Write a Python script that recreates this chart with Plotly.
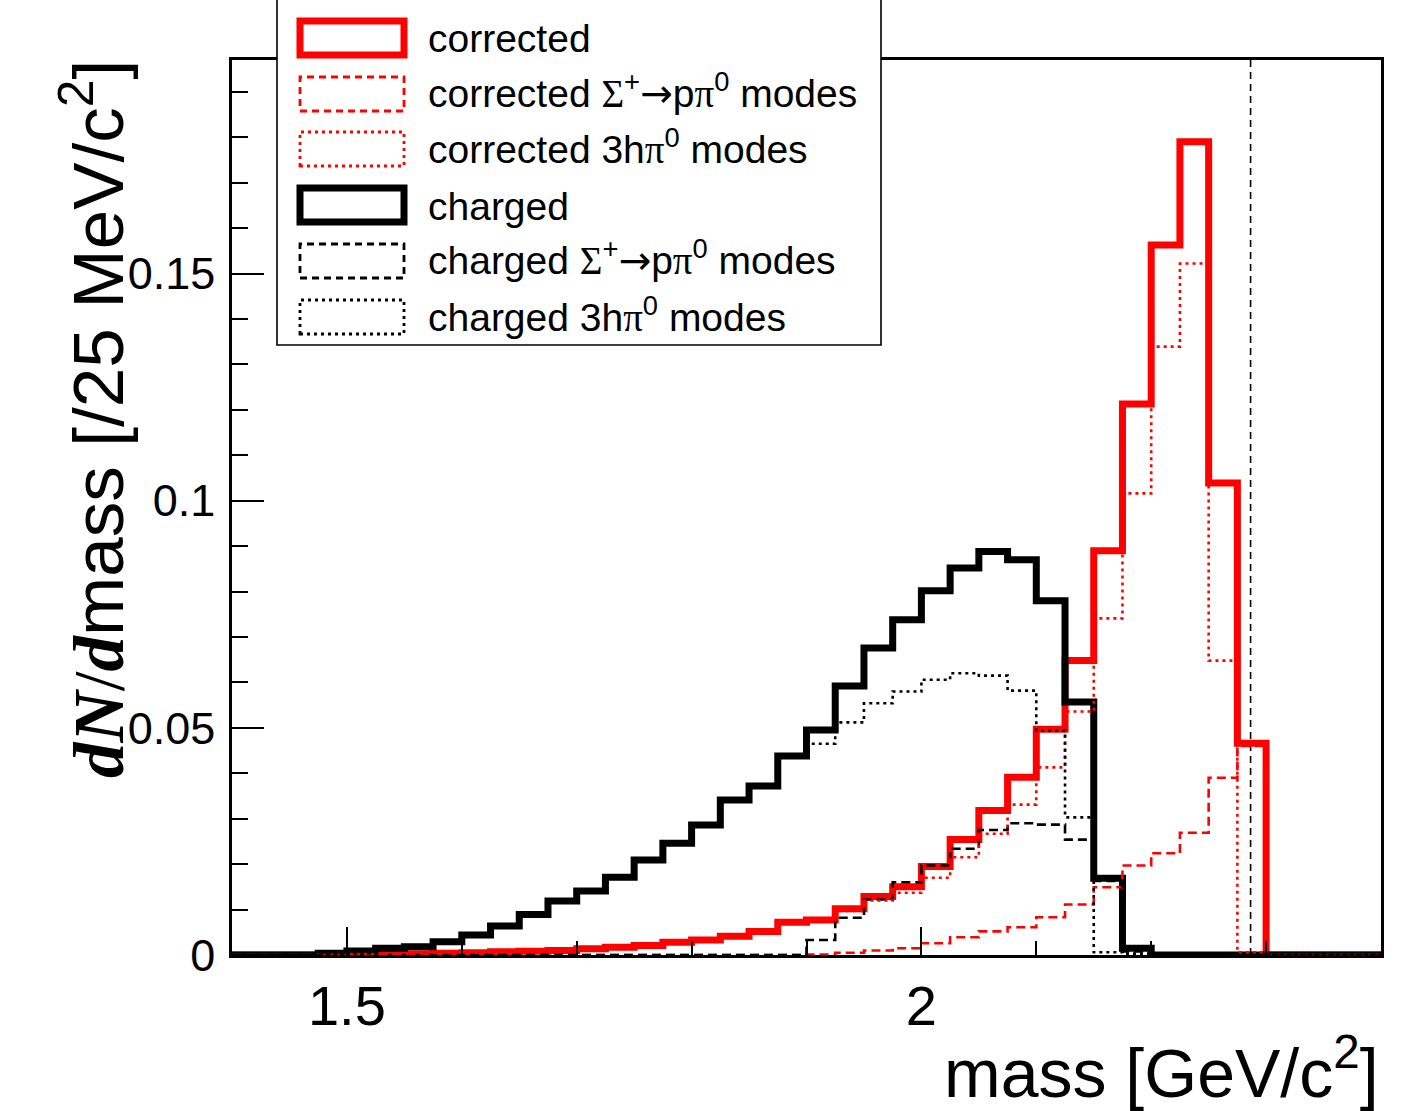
import plotly.graph_objects as go

# 25 MeV bins between 1.4 and 2.4 GeV/c^2
bin_edges = [round(1.4 + 0.025 * i, 3) for i in range(41)]

corrected = [0, 0, 0, 0.0001, 0.0002, 0.0002, 0.0003, 0.0004, 0.0005, 0.0007,
             0.0008, 0.0010, 0.0014, 0.0017, 0.0021, 0.0028, 0.0033, 0.0041, 0.0052, 0.0072,
             0.0077, 0.0102, 0.0129, 0.0150, 0.0195, 0.0254, 0.0318, 0.0391, 0.0497, 0.0648,
             0.0890, 0.1213, 0.1563, 0.1790, 0.1039, 0.0466, 0, 0, 0, 0]
corrected_sigma = [0, 0, 0, 0, 0, 0, 0, 0, 0, 0,
                   0, 0, 0, 0, 0, 0, 0, 0, 0, 0,
                   0.0001, 0.0005, 0.0010, 0.0015, 0.0026, 0.0039, 0.0052, 0.0061, 0.0083, 0.0111,
                   0.0149, 0.0197, 0.0224, 0.0269, 0.0390, 0.0460, 0, 0, 0, 0]
corrected_3h = [0, 0, 0, 0.0001, 0.0002, 0.0002, 0.0003, 0.0004, 0.0005, 0.0007,
                0.0008, 0.0010, 0.0014, 0.0017, 0.0021, 0.0028, 0.0033, 0.0041, 0.0052, 0.0072,
                0.0076, 0.0097, 0.0120, 0.0137, 0.0170, 0.0215, 0.0267, 0.0331, 0.0413, 0.0536,
                0.0741, 0.1016, 0.1339, 0.1522, 0.0648, 0.0006, 0, 0, 0, 0]
charged = [0, 0, 0, 0.0004, 0.0009, 0.0015, 0.0018, 0.0029, 0.0044, 0.0064,
           0.0089, 0.0119, 0.0141, 0.0171, 0.0209, 0.0246, 0.0286, 0.0341, 0.0372, 0.0438,
           0.0495, 0.0592, 0.0676, 0.0738, 0.0802, 0.0852, 0.0888, 0.0870, 0.0780, 0.0557,
           0.0169, 0.0015, 0, 0, 0, 0, 0, 0, 0, 0]
charged_sigma = [0, 0, 0, 0, 0, 0, 0, 0, 0, 0,
                 0, 0, 0, 0, 0, 0, 0, 0, 0, 0,
                 0.0033, 0.0082, 0.0122, 0.0160, 0.0197, 0.0234, 0.0275, 0.0290, 0.0287, 0.0254,
                 0.0163, 0.0008, 0, 0, 0, 0, 0, 0, 0, 0]
charged_3h = [0, 0, 0, 0.0004, 0.0009, 0.0015, 0.0018, 0.0029, 0.0044, 0.0064,
              0.0089, 0.0119, 0.0141, 0.0171, 0.0209, 0.0246, 0.0286, 0.0341, 0.0372, 0.0438,
              0.0465, 0.0512, 0.0554, 0.0580, 0.0606, 0.0620, 0.0615, 0.0582, 0.0494, 0.0303,
              0.0006, 0.0003, 0, 0, 0, 0, 0, 0, 0, 0]

lambda_c_mass = 2.2865

SANS = "Liberation Sans, Arial, Helvetica, sans-serif"
SERIF = "Liberation Serif"

# figure geometry (pixels)
W, H = 1424, 1111
L, R, T, B = 232, 43, 60, 156
PW, PH = W - L - R, H - T - B


def px(xp):
    return (xp - L) / PW


def py(yp):
    return (H - B - yp) / PH


def greek(s):
    return f"<span style='font-family:{SERIF}'>{s}</span>"


arrow = "<span style='font-family:DejaVu Sans'>→</span>"
sigma_txt = greek("Σ") + "<sup>+</sup>" + arrow + "p" + greek("π") + "<sup>0</sup>"
three_h_txt = "3h" + greek("π") + "<sup>0</sup>"

DASH = "9px,5px"
DOT = "3px,4px"

# (label, values, colour, width, dash) in drawing order: solid, dashed, dotted
series = [
    ("corrected", corrected, "#ff0000", 7, "solid"),
    ("charged", charged, "#000000", 7, "solid"),
    ("corrected " + sigma_txt + " modes", corrected_sigma, "#ff0000", 2.6, DASH),
    ("charged " + sigma_txt + " modes", charged_sigma, "#000000", 2.6, DASH),
    ("corrected " + three_h_txt + " modes", corrected_3h, "#ff0000", 2.6, DOT),
    ("charged " + three_h_txt + " modes", charged_3h, "#000000", 2.6, DOT),
]

fig = go.Figure()
for name, vals, col, w, dash in series:
    fig.add_trace(go.Scatter(
        x=bin_edges, y=list(vals) + [vals[-1]],
        mode="lines", line=dict(shape="hv", color=col, width=w, dash=dash),
        name=name, showlegend=False, hoverinfo="skip",
    ))

shapes = []
# nominal Lambda_c mass marker
shapes.append(dict(type="line", xref="x", yref="paper", x0=lambda_c_mass, x1=lambda_c_mass,
                   y0=0, y1=1, layer="below",
                   line=dict(color="black", width=1.6, dash="7px,5px")))

# legend box (drawn by hand, ROOT-style boxes)
shapes.append(dict(type="rect", xref="paper", yref="paper",
                   x0=px(277), x1=px(881), y0=py(345), y1=py(-10),
                   fillcolor="white", line=dict(color="black", width=1.6), layer="above"))

legend_rows = [
    ("corrected", "#ff0000", 7, "solid", 0),
    ("corrected " + sigma_txt + " modes", "#ff0000", 2.8, "7px,5px", -4),
    ("corrected " + three_h_txt + " modes", "#ff0000", 2.8, DOT, -4),
    ("charged", "#000000", 7, "solid", 0),
    ("charged " + sigma_txt + " modes", "#000000", 2.8, "7px,5px", -4),
    ("charged " + three_h_txt + " modes", "#000000", 2.8, DOT, -4),
]
row_y = [38, 94, 149, 205, 261, 317]
annotations = []
for (label, col, w, dash, shift), yc in zip(legend_rows, row_y):
    shapes.append(dict(type="rect", xref="paper", yref="paper",
                       x0=px(300), x1=px(404), y0=py(yc + 17), y1=py(yc - 17),
                       line=dict(color=col, width=w, dash=dash), layer="above"))
    annotations.append(dict(xref="paper", yref="paper", x=px(426), y=py(yc + 1 + shift),
                            xanchor="left", yanchor="middle", showarrow=False,
                            text=label, font=dict(family=SANS, size=39, color="black")))

# axis titles
annotations.append(dict(xref="paper", yref="paper", x=1.0, y=py(1068),
                        xanchor="right", yanchor="middle", showarrow=False,
                        text="mass [GeV/c<sup>2</sup>]",
                        font=dict(family=SANS, size=68, color="black")))
annotations.append(dict(xref="paper", yref="paper", x=px(93), y=py(58),
                        xanchor="center", yanchor="top", showarrow=False, textangle=-90,
                        text=f"<b><i><span style='font-family:{SERIF}'>dN</span></i></b>"
                             f"<span style='font-family:{SERIF}'>/</span>"
                             f"<b><i><span style='font-family:{SERIF}'>d</span></i></b>"
                             "mass [/25 MeV/c<sup>2</sup>]",
                        font=dict(family=SANS, size=71, color="black")))

fig.update_layout(
    width=W, height=H,
    margin=dict(l=L, r=R, t=T, b=B, pad=0),
    paper_bgcolor="white", plot_bgcolor="white",
    shapes=shapes, annotations=annotations,
    showlegend=False,
)
fig.update_xaxes(
    range=[1.4, 2.4], tickmode="linear", tick0=0, dtick=0.5,
    ticks="inside", ticklen=28, tickwidth=2, tickcolor="black",
    showline=True, linecolor="black", linewidth=2.5, mirror=True,
    showgrid=False, zeroline=False,
    tickfont=dict(family=SANS, size=56, color="black"),
    ticklabelstandoff=0,
    minor=dict(ticks="inside", tick0=0, dtick=0.1, ticklen=14, tickwidth=2, tickcolor="black",
               showgrid=False),
)
fig.update_yaxes(
    range=[0, 0.197], tickmode="linear", tick0=0, dtick=0.05,
    ticks="inside", ticklen=32, tickwidth=2, tickcolor="black",
    showline=True, linecolor="black", linewidth=2.5, mirror=True,
    showgrid=False, zeroline=False,
    tickfont=dict(family=SANS, size=45, color="black"),
    ticklabelstandoff=5,
    minor=dict(ticks="inside", tick0=0, dtick=0.01, ticklen=16, tickwidth=2, tickcolor="black",
               showgrid=False),
)

fig.write_html("out.html")
